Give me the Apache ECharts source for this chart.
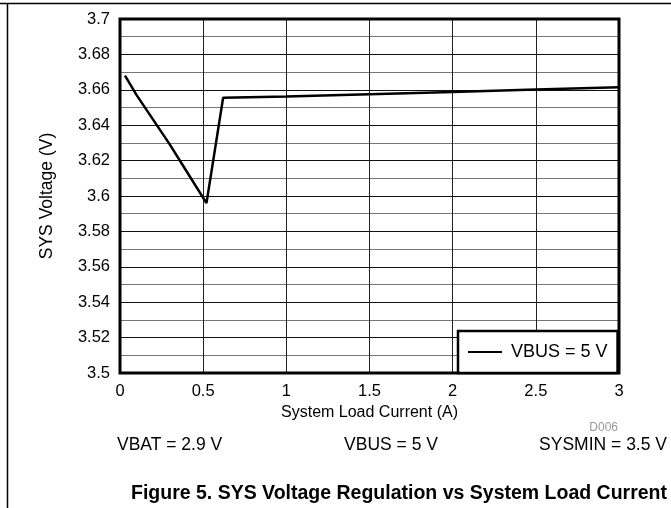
<!DOCTYPE html>
<html>
<head>
<meta charset="utf-8">
<script src="https://cdn.jsdelivr.net/npm/echarts@6/dist/echarts.min.js"></script>
<style>
  html, body { margin: 0; padding: 0; background: #fff; }
  #chart { width: 671px; height: 508px; }
</style>
</head>
<body>
<div id="chart"></div>
<script>
// System load current (A) and SYS voltage (V)
const loadCurrent = [0.03, 0.1, 0.2, 0.3, 0.4, 0.52, 0.62, 1.0, 1.5, 2.0, 2.5, 3.0];
const sysVoltage = [3.668, 3.657, 3.643, 3.629, 3.614, 3.596, 3.6555, 3.6562, 3.6575, 3.6588, 3.6601, 3.6614];
const seriesName = 'VBUS = 5 V';
const conditions = ['VBAT = 2.9 V', 'VBUS = 5 V', 'SYSMIN = 3.5 V'];
const figureTitle = 'Figure 5. SYS Voltage Regulation vs System Load Current';

const font = 'Arial, "Liberation Sans", sans-serif';
const chart = echarts.init(document.getElementById('chart'));

const option = {
    animation: false,
    grid: {
        left: 120,
        right: 52,
        top: 19,
        bottom: 135,
        show: true,
        borderColor: '#000',
        borderWidth: 3,
        z: 5
    },
    legend: {
        data: [seriesName],
        left: 458,
        top: 331,
        orient: 'vertical',
        backgroundColor: '#fff',
        borderColor: '#000',
        borderWidth: 2.5,
        padding: [12, 10, 12, 10],
        itemWidth: 34,
        itemHeight: 16,
        icon: 'path://M0,7 L34,7 L34,9 L0,9 Z',
        itemStyle: { color: '#000' },
        textStyle: { fontFamily: font, fontSize: 18, color: '#000', padding: [0, 0, 0, 4] },
        z: 10
    },
    xAxis: {
        type: 'value',
        min: 0,
        max: 3,
        interval: 0.5,
        name: 'System Load Current (A)',
        nameLocation: 'middle',
        nameGap: 30,
        nameTextStyle: { fontFamily: font, fontSize: 16, color: '#000' },
        axisLine: { show: false },
        axisTick: { show: false },
        axisLabel: { fontFamily: font, fontSize: 16.5, color: '#000', margin: 10 },
        splitLine: { show: true, lineStyle: { color: '#222', width: 1 } }
    },
    yAxis: {
        type: 'value',
        min: 3.5,
        max: 3.7,
        interval: 0.02,
        name: 'SYS Voltage (V)',
        nameLocation: 'middle',
        nameGap: 64,
        nameTextStyle: { fontFamily: font, fontSize: 17.5, color: '#000' },
        axisLine: { show: false },
        axisTick: { show: false },
        axisLabel: { fontFamily: font, fontSize: 16.5, color: '#000', margin: 10 },
        splitLine: { show: true, lineStyle: { color: '#111', width: 1 } },
        minorTick: { show: false, splitNumber: 2 },
        minorSplitLine: { show: true, lineStyle: { color: '#777', width: 1 } }
    },
    series: [{
        name: seriesName,
        type: 'line',
        data: loadCurrent.map((x, i) => [x, sysVoltage[i]]),
        showSymbol: false,
        lineStyle: { color: '#000', width: 2.5 },
        itemStyle: { color: '#000' },
        z: 6
    }],
    graphic: [
        { type: 'line', shape: { x1: 0, y1: 3.5, x2: 671, y2: 3.5 }, style: { stroke: '#000', lineWidth: 1.5 } },
        { type: 'line', shape: { x1: 7.5, y1: 3, x2: 7.5, y2: 508 }, style: { stroke: '#000', lineWidth: 1.5 } },
        { type: 'text', x: 618, y: 428, style: { text: 'D006', font: '12px ' + font, fill: '#999', align: 'right', verticalAlign: 'middle' } },
        { type: 'text', x: 117, y: 445, style: { text: conditions[0], font: '17.5px ' + font, fill: '#000', align: 'left', verticalAlign: 'middle' } },
        { type: 'text', x: 391, y: 445, style: { text: conditions[1], font: '17.5px ' + font, fill: '#000', align: 'center', verticalAlign: 'middle' } },
        { type: 'text', x: 667, y: 445, style: { text: conditions[2], font: '17.5px ' + font, fill: '#000', align: 'right', verticalAlign: 'middle' } },
        { type: 'text', x: 667, y: 494, style: { text: figureTitle, font: 'bold 19.5px ' + font, fill: '#000', align: 'right', verticalAlign: 'middle' } }
    ]
};

chart.setOption(option);
</script>
</body>
</html>
